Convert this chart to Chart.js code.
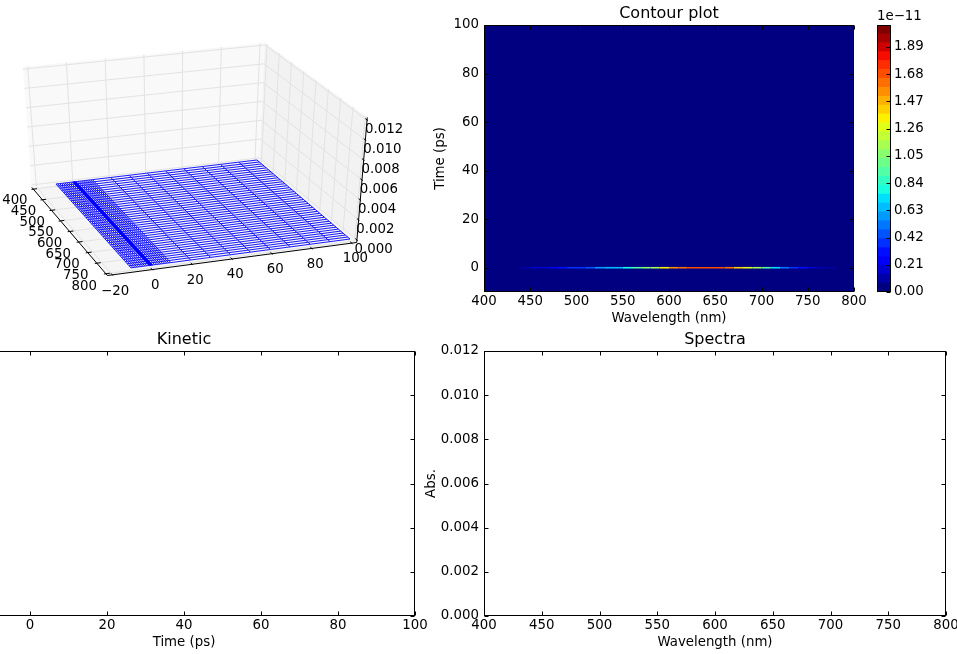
<!DOCTYPE html>
<html>
<head>
<meta charset="utf-8">
<script src="https://cdn.jsdelivr.net/npm/chart.js@4.4.1/dist/chart.umd.min.js"></script>
<style>
  html, body { margin: 0; padding: 0; background: #fff; overflow: hidden; }
  body { width: 957px; height: 654px; position: relative; }
  canvas { position: absolute; }
</style>
</head>
<body>
<canvas id="surf" width="430" height="320" style="left:0;top:0"></canvas>
<canvas id="contour" width="470" height="340" style="left:400px;top:0"></canvas>
<canvas id="cbar" width="80" height="340" style="left:877px;top:0"></canvas>
<canvas id="kinetic" width="537" height="334" style="left:-107px;top:320px"></canvas>
<canvas id="spectra" width="560" height="334" style="left:420px;top:320px"></canvas>
<script>
// Transient-absorption style 2x2 figure: 3D wireframe, contour map with a
// colourbar, and the (flat) kinetic and spectral cuts. Chart is the UMD global.

// ---- data -----------------------------------------------------------------
// Wavelength grid (nm) of the measured map.
const wavelengths = [400, 410, 420, 430, 440, 450, 460, 470, 480, 490, 500, 510, 520, 530, 540,
  550, 560, 570, 580, 590, 600, 610, 620, 630, 640, 650, 660, 670, 680, 690, 700, 710, 720,
  730, 740, 750, 760, 770, 780, 790, 800];
// Delay times (ps): very dense around time zero, 1 ps out to 10 ps, then 10 ps steps.
const times = [-10, -9, -8, -7, -6, -5, -4, -3, -2, -1,
  -0.7, -0.6, -0.5, -0.4, -0.3, -0.2, -0.1, 0, 0.1, 0.2, 0.3, 0.4, 0.5, 0.6, 0.7,
  1, 2, 3, 4, 5, 6, 7, 8, 9, 10,
  20, 30, 40, 50, 60, 70, 80, 90, 100];
// The only non-zero row sits at t = 0; its signal in units of 1e-11,
// read off the contour colours.
const peakTime = 0;
const signalUnit = 1e-11;
const peakSignal = [0, 0, 0, 0.03, 0.08, 0.12, 0.16, 0.2, 0.25, 0.32, 0.38, 0.42, 0.5, 0.6, 0.65,
  0.7, 0.85, 1.05, 1.12, 1.2, 1.45, 1.6, 1.66, 1.7, 1.72, 1.7, 1.66, 1.58, 1.3, 1.2, 1.1, 0.75,
  0.65, 0.42, 0.38, 0.22, 0.17, 0.1, 0.08, 0.03, 0];
// Wavelength index used for the kinetic cut (the peak of the band).
const kineticIndex = 24;

// Filled-contour level edges (units of 1e-11) and colourbar labels.
const cbarLevels = [0, 0.0687, 0.1373, 0.206, 0.2747, 0.3433, 0.412, 0.4807, 0.5493, 0.618,
  0.6867, 0.7553, 0.824, 0.8927, 0.9613, 1.03, 1.0987, 1.1673, 1.236, 1.3047, 1.3733, 1.442,
  1.5107, 1.5793, 1.648, 1.7167, 1.7853, 1.854, 1.9227, 1.9913, 2.06];
const cbarTicks = [0, 0.21, 0.42, 0.63, 0.84, 1.05, 1.26, 1.47, 1.68, 1.89];

// Axis tick values.
const wlTicks = [400, 450, 500, 550, 600, 650, 700, 750, 800];
const timeTicks = [-20, 0, 20, 40, 60, 80, 100];
const contourTimeTicks = [0, 20, 40, 60, 80, 100];
const absTicks = [0, 0.002, 0.004, 0.006, 0.008, 0.010, 0.012];

// The map value at (time, wavelength index).
function signalAt(t, i) {
  return t === peakTime ? peakSignal[i] * signalUnit : 0;
}

// ---- styling helpers --------------------------------------------------------
Chart.defaults.font.family = '"DejaVu Sans", sans-serif';
Chart.defaults.font.size = 13.33;
Chart.defaults.color = "#000";
Chart.defaults.animation = false;
Chart.defaults.events = [];
Chart.defaults.plugins.legend.display = false;
Chart.defaults.plugins.tooltip.enabled = false;

// matplotlib's "jet" colormap, piecewise linear.
const JET = {
  r: [[0, 0], [0.35, 0], [0.66, 1], [0.89, 1], [1, 0.5]],
  g: [[0, 0], [0.125, 0], [0.375, 1], [0.64, 1], [0.91, 0], [1, 0]],
  b: [[0, 0.5], [0.11, 1], [0.34, 1], [0.65, 0], [1, 0]],
};
function lerpTable(pts, x) {
  for (let k = 1; k < pts.length; k++) {
    if (x <= pts[k][0]) {
      const [x0, y0] = pts[k - 1], [x1, y1] = pts[k];
      return y0 + ((y1 - y0) * (x - x0)) / (x1 - x0);
    }
  }
  return pts[pts.length - 1][1];
}
function jet(x) {
  const c = (ch) => Math.round(255 * lerpTable(JET[ch], x));
  return `rgb(${c("r")},${c("g")},${c("b")})`;
}
const nBands = cbarLevels.length - 1;
// Colour of the contour band a value (units of 1e-11) falls into.
function bandColor(v) {
  let i = 0;
  while (i < nBands - 1 && v >= cbarLevels[i + 1]) i++;
  return jet(i / (nBands - 1));
}
const minusFmt = (v) => (v < 0 ? "\u2212" + Math.abs(v) : String(v));
const fixedTicks = (values) => (scale) => { scale.ticks = values.map((value) => ({ value })); };

// Black frame with inward ticks on every side, the classic matplotlib look.
const frameTicks = {
  id: "frameTicks",
  afterDraw(chart, _args, opts) {
    const { ctx, chartArea: a, scales } = chart;
    const L = Math.round(a.left) + 0.5, R = Math.round(a.right) - 0.5;
    const T = Math.round(a.top) + 0.5, B = Math.round(a.bottom) - 0.5;
    const len = 4;
    ctx.save();
    ctx.strokeStyle = "#000";
    ctx.lineWidth = 1;
    ctx.beginPath();
    if (opts.xTicks !== false) {
      for (const t of scales.x.ticks) {
        const p = Math.round(scales.x.getPixelForValue(t.value)) + 0.5;
        ctx.moveTo(p, B); ctx.lineTo(p, B - len);
        ctx.moveTo(p, T); ctx.lineTo(p, T + len);
      }
    }
    for (const t of scales.y.ticks) {
      const p = Math.round(scales.y.getPixelForValue(t.value)) + 0.5;
      if (opts.leftTicks !== false) { ctx.moveTo(L, p); ctx.lineTo(L + len, p); }
      ctx.moveTo(R, p); ctx.lineTo(R - len, p);
    }
    ctx.stroke();
    ctx.strokeRect(L, T, R - L, B - T);
    ctx.restore();
  },
};

// Axes title centred over the plot area (baseline 6.67 px above the frame).
const panelTitle = {
  id: "panelTitle",
  afterDraw(chart, _args, opts) {
    if (!opts.text) return;
    const { ctx, chartArea: a } = chart;
    ctx.save();
    ctx.font = '16px "DejaVu Sans", sans-serif';
    ctx.fillStyle = "#000";
    ctx.textAlign = "center";
    ctx.textBaseline = "alphabetic";
    ctx.fillText(opts.text, (a.left + a.right) / 2, a.top - 6.67);
    ctx.restore();
  },
};

// Linear axis with fixed ticks, no grid, size pinned so the plot area lands
// exactly where the reference puts it.
function axis(min, max, ticks, fmt, size, extra) {
  return Object.assign({
    type: "linear", min, max,
    afterBuildTicks: fixedTicks(ticks),
    ticks: { callback: fmt, padding: 2 },
    grid: { display: false, drawTicks: false },
    border: { display: false },
  }, extra, {
    afterFit: (s) => { if (s.isHorizontal()) s.height = size; else s.width = size; },
  });
}

// ---- 3D wireframe ---------------------------------------------------------
// Screen position of the floor corners of the data box and the rise of the
// full z range at each corner, ordered (t0,w0), (t1,w0), (t0,w1), (t1,w1).
const T_LIM = [-20, 100], W_LIM = [400, 800], Z_LIM = [0, 0.012];
const FLOOR = [[37.7, 186.2], [257, 160], [111, 270.5], [350, 239]];
const RISE = [[-8, -116], [5, -113], [8, -125], [10, -120]];
// Drawn box = limits padded by 1/48 of each range, as mplot3d does.
const BOX = { t: [-22.5, 102.5], w: [391.7, 808.3], z: [-0.00025, 0.01225] };

function project(t, w, z) {
  const g = (t - T_LIM[0]) / (T_LIM[1] - T_LIM[0]);
  const f = (w - W_LIM[0]) / (W_LIM[1] - W_LIM[0]);
  const h = (z - Z_LIM[0]) / (Z_LIM[1] - Z_LIM[0]);
  const k = [(1 - g) * (1 - f), g * (1 - f), (1 - g) * f, g * f];
  let x = 0, y = 0;
  for (let i = 0; i < 4; i++) {
    x += k[i] * (FLOOR[i][0] + h * RISE[i][0]);
    y += k[i] * (FLOOR[i][1] + h * RISE[i][1]);
  }
  return { x, y };
}

const box3d = {
  id: "box3d",
  beforeDatasetsDraw(chart) {
    const { ctx, scales: { x: sx, y: sy } } = chart;
    const P = (t, w, z) => {
      const p = project(t, w, z);
      return [sx.getPixelForValue(p.x), sy.getPixelForValue(p.y)];
    };
    const poly = (pts, fill) => {
      ctx.beginPath();
      pts.forEach(([x, y], i) => (i ? ctx.lineTo(x, y) : ctx.moveTo(x, y)));
      ctx.closePath();
      ctx.fillStyle = fill;
      ctx.fill();
    };
    const seg = (a, b) => { ctx.moveTo(a[0], a[1]); ctx.lineTo(b[0], b[1]); };
    const [tl, th] = BOX.t, [wl, wh] = BOX.w, [zl, zh] = BOX.z;
    ctx.save();
    // panes
    poly([P(tl, wl, zl), P(th, wl, zl), P(th, wl, zh), P(tl, wl, zh)], "#f9f9f9");
    poly([P(th, wl, zl), P(th, wh, zl), P(th, wh, zh), P(th, wl, zh)], "#f2f2f2");
    poly([P(tl, wl, zl), P(th, wl, zl), P(th, wh, zl), P(tl, wh, zl)], "#f5f5f5");
    // grid
    ctx.strokeStyle = "#e3e3e3";
    ctx.lineWidth = 1;
    ctx.beginPath();
    for (const t of timeTicks) { seg(P(t, wl, zl), P(t, wl, zh)); seg(P(t, wl, zl), P(t, wh, zl)); }
    for (const w of wlTicks) { seg(P(th, w, zl), P(th, w, zh)); seg(P(tl, w, zl), P(th, w, zl)); }
    for (const z of absTicks) { seg(P(tl, wl, z), P(th, wl, z)); seg(P(th, wl, z), P(th, wh, z)); }
    ctx.stroke();
    // axis lines and ticks
    ctx.strokeStyle = "#000";
    ctx.beginPath();
    seg(P(tl, wl, zl), P(tl, wh, zl));
    seg(P(tl, wh, zl), P(th, wh, zl));
    seg(P(th, wh, zl), P(th, wh, zh));
    for (const w of wlTicks) seg(P(tl - 1, w, zl), P(tl + 2, w, zl));
    for (const t of timeTicks) seg(P(t, wh + 3.5, zl), P(t, wh - 6.9, zl));
    for (const z of absTicks) seg(P(th, wh + 3.5, z), P(th, wh - 6.9, z));
    ctx.stroke();
    // tick labels
    ctx.fillStyle = "#000";
    ctx.font = '13.33px "DejaVu Sans", sans-serif';
    ctx.textAlign = "center";
    ctx.textBaseline = "middle";
    for (const w of wlTicks) { const [x, y] = P(-33, w, -0.0012); ctx.fillText(String(w), x, y); }
    for (const t of timeTicks) { const [x, y] = P(t, 828.3, -0.0014); ctx.fillText(minusFmt(t), x, y); }
    for (const z of absTicks) { const [x, y] = P(108.5, 828.3, z); ctx.fillText(z.toFixed(3), x, y + 7); }
    ctx.restore();
  },
};

const wire = (pts) => ({
  data: pts, showLine: true, pointRadius: 0, borderWidth: 0.9,
  borderColor: "#0000ff", spanGaps: false,
});
const wireSets = [];
for (const t of times) {
  wireSets.push(wire(wavelengths.map((w, i) => project(t, w, signalAt(t, i)))));
}
wavelengths.forEach((w, i) => {
  wireSets.push(wire(times.map((t) => project(t, w, signalAt(t, i)))));
});

new Chart(document.getElementById("surf"), {
  type: "scatter",
  data: { datasets: wireSets },
  options: {
    responsive: false,
    devicePixelRatio: 1,
    layout: { padding: 0 },
    scales: {
      x: { type: "linear", min: 0, max: 430, display: false },
      y: { type: "linear", min: 0, max: 320, reverse: true, display: false },
    },
  },
  plugins: [box3d],
});

// ---- contour map --------------------------------------------------------------
// Chart.js paints the last dataset first, so the background band comes second.
new Chart(document.getElementById("contour"), {
  type: "scatter",
  data: {
    datasets: [
      { // the t = 0 row, coloured by its band
        data: wavelengths.map((w) => ({ x: w, y: peakTime })),
        showLine: true, pointRadius: 0, borderWidth: 1.6, borderColor: jet(0),
        segment: {
          borderColor: (c) => bandColor((peakSignal[c.p0DataIndex] + peakSignal[c.p1DataIndex]) / 2),
        },
      },
      { // lowest band fills the whole map
        data: [{ x: W_LIM[0], y: 100 }, { x: W_LIM[1], y: 100 }],
        showLine: true, fill: "start", backgroundColor: jet(0),
        borderWidth: 0, pointRadius: 0,
      },
    ],
  },
  options: {
    responsive: false,
    devicePixelRatio: 1,
    layout: { padding: { top: 25, right: 16 } },
    plugins: { panelTitle: { text: "Contour plot" }, frameTicks: {} },
    scales: {
      x: axis(400, 800, wlTicks, (v) => String(v), 48,
        { title: { display: true, text: "Wavelength (nm)", padding: { top: 0, bottom: 13 } } }),
      y: axis(-10, 100, contourTimeTicks, (v) => String(v), 84,
        { ticks: { callback: (v) => String(v), padding: 5 },
          title: { display: true, text: "Time (ps)", padding: { top: 33, bottom: 0 } } }),
    },
  },
  plugins: [frameTicks, panelTitle],
});

// ---- colourbar --------------------------------------------------------------
new Chart(document.getElementById("cbar"), {
  type: "bar",
  data: {
    labels: [""],
    datasets: cbarLevels.slice(0, -1).map((lo, i) => ({
      data: [[lo, cbarLevels[i + 1]]],
      backgroundColor: jet(i / (nBands - 1)),
      borderWidth: 0, barPercentage: 1, categoryPercentage: 1, grouped: false,
    })),
  },
  options: {
    responsive: false,
    devicePixelRatio: 1,
    layout: { padding: { bottom: 48 } },
    plugins: {
      title: {
        display: true, text: "1e\u221211", align: "start",
        font: { size: 13.33, weight: "normal" }, padding: { top: 9, bottom: 0 },
      },
      frameTicks: { xTicks: false, leftTicks: false },
    },
    scales: {
      x: { display: false },
      y: axis(0, cbarLevels[nBands], cbarTicks, (v) => v.toFixed(2), 66,
        { position: "right", ticks: { callback: (v) => v.toFixed(2), padding: 3 } }),
    },
  },
  plugins: [frameTicks],
});

// ---- kinetic cut --------------------------------------------------------------
new Chart(document.getElementById("kinetic"), {
  type: "scatter",
  data: {
    datasets: [{
      data: times.map((t) => ({ x: t, y: signalAt(t, kineticIndex) })),
      showLine: true, pointRadius: 0, borderWidth: 1, borderColor: "#0000ff",
    }],
  },
  options: {
    responsive: false,
    devicePixelRatio: 1,
    layout: { padding: { top: 31, right: 15 } },
    plugins: { panelTitle: { text: "Kinetic" }, frameTicks: {} },
    scales: {
      x: axis(-20, 100, timeTicks, minusFmt, 38,
        { title: { display: true, text: "Time (ps)", padding: { top: 0, bottom: 3 } } }),
      y: axis(0, 0.012, absTicks, (v) => v.toFixed(3), 60,
        { ticks: { callback: (v) => v.toFixed(3), padding: 5 } }),
    },
  },
  plugins: [frameTicks, panelTitle],
});

// ---- spectral cut -------------------------------------------------------------
new Chart(document.getElementById("spectra"), {
  type: "scatter",
  data: {
    datasets: [{
      data: wavelengths.map((w, i) => ({ x: w, y: signalAt(peakTime, i) })),
      showLine: true, pointRadius: 0, borderWidth: 1, borderColor: "#0000ff",
    }],
  },
  options: {
    responsive: false,
    devicePixelRatio: 1,
    layout: { padding: { top: 31, right: 34 } },
    plugins: { panelTitle: { text: "Spectra" }, frameTicks: {} },
    scales: {
      x: axis(400, 800, wlTicks, (v) => String(v), 38,
        { title: { display: true, text: "Wavelength (nm)", padding: { top: 0, bottom: 3 } } }),
      y: axis(0, 0.012, absTicks, (v) => v.toFixed(3), 64,
        { ticks: { callback: (v) => v.toFixed(3), padding: 5 },
          title: { display: true, text: "Abs.", padding: { top: 4, bottom: 0 } } }),
    },
  },
  plugins: [frameTicks, panelTitle],
});
</script>
</body>
</html>
